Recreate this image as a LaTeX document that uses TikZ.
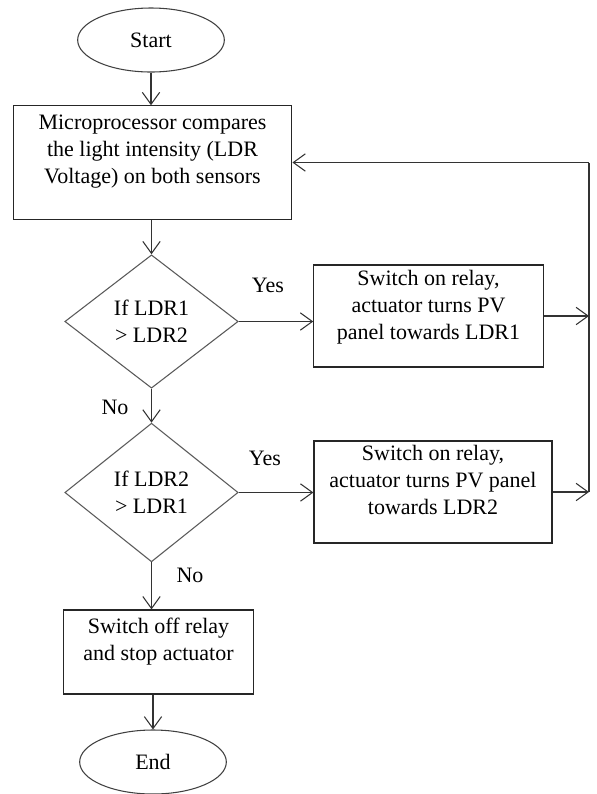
\documentclass[tikz,border=0pt]{standalone}
\usepackage{fontspec}
\setmainfont{Liberation Serif}
\usetikzlibrary{positioning, shapes.geometric, arrows.meta}

\begin{document}
\begin{tikzpicture}[
    x=0.75pt, y=-0.75pt,
    every node/.style={font=\fontsize{16.5}{20}\selectfont},
    term/.style={ellipse, draw=black!75, line width=0.8pt,
                minimum width=110pt, minimum height=48pt, inner sep=0pt},
    box/.style={rectangle, draw=black!85, line width=0.9pt,
                align=center, inner sep=2pt},
    cond/.style={diamond, draw=black!65, line width=0.8pt, align=center,
                inner sep=0pt, minimum width=130pt, minimum height=#1},
    arr/.style={-{Straight Barb[length=9pt, width=13pt]}, line width=0.8pt, black!80},
    wire/.style={line width=0.8pt, black!80},
]
\useasboundingbox (0,0) rectangle (597,794);

% Terminals
\node[term] (start) at (151,40) {Start};
\node[term] (end) at (153,762) {End};

% Comparison step
\node[box, minimum width=209pt, minimum height=85pt, text depth=20pt] (proc) at (152.5,162.5)
    {Microprocessor compares\\the light intensity (LDR\\Voltage) on both sensors};

% Decisions
\node[cond=100pt] (dec1) at (151.5,321.5) {If LDR1\\> LDR2};
\node[cond=104pt] (dec2) at (151.5,492.5) {If LDR2\\> LDR1};

% Actions
\node[box, minimum width=172pt, minimum height=76.5pt, text depth=16.5pt] (act1) at (428.5,316)
    {Switch on relay,\\actuator turns PV\\panel towards LDR1};
\node[box, minimum width=178.5pt, minimum height=76.5pt, text depth=18pt] (act2) at (433,492)
    {Switch on relay,\\actuator turns PV panel\\towards LDR2};
\node[box, minimum width=142pt, minimum height=63pt, text depth=19.5pt] (stop) at (158.5,652)
    {Switch off relay\\and stop actuator};

% Branch labels
\node (yes1) at (268,285) {Yes};
\node (yes2) at (265,458) {Yes};
\node (no1) at (115,407) {No};
\node (no2) at (190,575) {No};

% Main column
\draw[arr] (start.south) -- (start.south |- proc.north);
\draw[arr] (proc.south -| dec1.north) -- (dec1.north);
\draw[arr] (dec1.south) -- (dec2.north);
\draw[arr] (dec2.south) -- (dec2.south |- stop.north);
\draw[arr] (stop.south -| end.north) -- (end.north);

% Yes branches
\draw[arr] (dec1.east) -- (act1.west |- dec1.east);
\draw[arr] (dec2.east) -- (act2.west |- dec2.east);

% Return rail back to the comparison
\coordinate (rail) at (589,0);
\draw[arr] (act1.east) -- (rail |- act1.east);
\draw[arr] (act2.east) -- (rail |- act2.east);
\draw[wire] (rail |- act2.east) -- (rail |- proc.east);
\draw[arr] (rail |- proc.east) -- (proc.east);

\end{tikzpicture}
\end{document}
